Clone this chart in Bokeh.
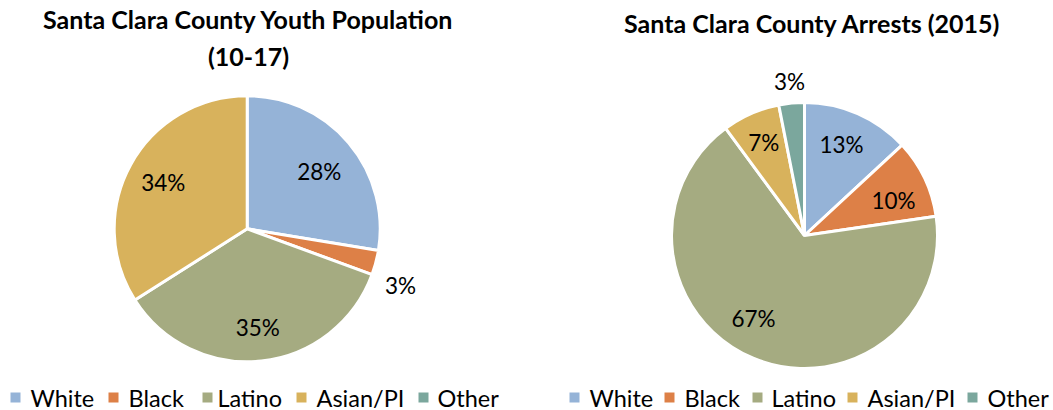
import math
from bokeh.plotting import figure
from bokeh.models import Range1d, ColumnDataSource
from bokeh.core.properties import value
from bokeh.embed import file_html
from bokeh.resources import INLINE

# ---- data ----
categories = ["White", "Black", "Latino", "Asian/PI", "Other"]
youth_pct = [27.6, 3.0, 35.4, 34.0, 0.0]
arrest_pct = [13.1, 9.6, 67.2, 7.0, 3.1]
colors = ["#95B3D7", "#DD8047", "#A5AB81", "#D8B25C", "#7BA79D"]
title_left = ["Santa Clara County Youth Population", "(10-17)"]
title_right = ["Santa Clara County Arrests (2015)"]

# ---- layout (pixel-like coordinates, y upward) ----
W, H = 1053, 410
FONT = "Lato"
R = 133
pies = [
    dict(vals=youth_pct, cx=246.7, cy=H - 228.3, titles=title_left, tx=248, ty=[H - 18, H - 55],
         lab_r=[0.69, 1.23, 0.75, 0.72, 1.0], lab_da=[-2, -5.6, 0, 0, 0],
         leg_sq=[15, 113, 207, 301, 423], leg_tx=[30, 128, 217, 316, 437]),
    dict(vals=arrest_pct, cx=804, cy=H - 235, titles=title_right, tx=812, ty=[H - 22.5],
         lab_r=[0.74, 0.72, 0.73, 0.76, 1.16], lab_da=[1.5, -4, -9, 0, 0],
         leg_sq=[574, 669, 757, 852, 972], leg_tx=[589, 684, 771, 867, 987]),
]
LEG_Y = H - 397

p = figure(width=W, height=H, output_backend="svg", toolbar_location=None,
           x_range=Range1d(0, W), y_range=Range1d(0, H),
           min_border=0, outline_line_color=None)
p.axis.visible = False
p.grid.visible = False
p.background_fill_color = "white"
p.border_fill_color = "white"

for pie in pies:
    vals = pie["vals"]
    total = sum(vals)
    starts, ends, cols, lx, ly, labels = [], [], [], [], [], []
    cum = 0.0
    for i, v in enumerate(vals):
        a0 = math.pi / 2 - 2 * math.pi * cum / total
        cum += v
        a1 = math.pi / 2 - 2 * math.pi * cum / total
        if v <= 0:
            continue
        starts.append(a0)
        ends.append(a1)
        cols.append(colors[i])
        mid = (a0 + a1) / 2 + math.radians(pie["lab_da"][i])
        rr = R * pie["lab_r"][i]
        lx.append(pie["cx"] + rr * math.cos(mid))
        ly.append(pie["cy"] + rr * math.sin(mid))
        labels.append(f"{round(v)}%")
    src = ColumnDataSource(dict(start=starts, end=ends, color=cols))
    p.wedge(x=pie["cx"], y=pie["cy"], radius=R, start_angle="start", end_angle="end",
            direction="clock", fill_color="color", line_color="white", line_width=3, source=src)
    p.text(x=lx, y=ly, text=labels, text_font=value(FONT), text_font_size="22.5px",
           text_align="center", text_baseline="middle", text_color="#000000")
    for t, y in zip(pie["titles"], pie["ty"]):
        p.text(x=[pie["tx"]], y=[y], text=[t], text_font=value(FONT), text_font_size="25px",
               text_font_style="bold", text_align="center", text_baseline="middle", text_color="#000000")
    p.rect(x=pie["leg_sq"], y=[LEG_Y] * 5, width=10, height=10, fill_color=colors, line_color=None)
    p.text(x=pie["leg_tx"], y=[LEG_Y] * 5, text=categories, text_font=value(FONT), text_font_size="23.5px",
           text_align="left", text_baseline="middle", text_color="#000000")

open("out.html", "w").write(file_html(p, INLINE))
